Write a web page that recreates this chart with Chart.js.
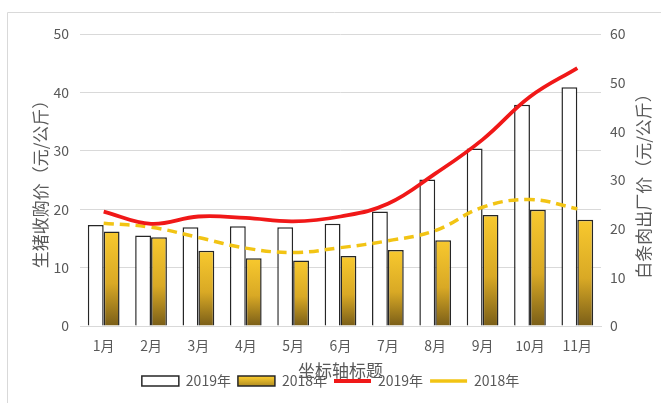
<!DOCTYPE html>
<html><head><meta charset="utf-8">
<script src="https://cdn.jsdelivr.net/npm/chart.js@4/dist/chart.umd.min.js"></script>
<style>html,body{margin:0;padding:0;background:#fff}#wrap{position:relative;width:661px;height:403px}</style>
</head><body><div id="wrap"><canvas id="c" width="661" height="403"></canvas></div>
<script>
const months = ['1月','2月','3月','4月','5月','6月','7月','8月','9月','10月','11月'];
const pig2019 = [17.3, 15.5, 16.9, 17.1, 16.9, 17.5, 19.6, 25.1, 30.4, 37.9, 40.9];
const pig2018 = [16.2, 15.2, 12.9, 11.6, 11.2, 12.0, 13.0, 14.7, 19.0, 19.9, 18.2];
const pork2019 = [23.5, 21.0, 22.5, 22.2, 21.5, 22.5, 25.1, 31.3, 38.3, 47.1, 53.0];
const pork2018 = [21.1, 20.3, 18.2, 16.0, 15.1, 16.1, 17.5, 19.6, 24.4, 26.0, 24.1];
const seriesLabels = ['2019年', '2018年', '2019年', '2018年'];
const leftTicks = [0, 10, 20, 30, 40, 50];
const rightTicks = [0, 10, 20, 30, 40, 50, 60];
const leftTitle = '生猪收购价（元/公斤）';
const rightTitle = '白条肉出厂价（元/公斤）';
const xTitle = '坐标轴标题';

const FONT = "'Noto Sans CJK SC', 'Microsoft YaHei', sans-serif";
const TXT = '#595959';
const GRID = '#D9D9D9';

function goldBar(ctx) {
  const chart = ctx.chart;
  if (!chart.chartArea || !ctx.parsed || ctx.type !== 'data') return '#D6AB2A';
  const y = chart.scales.y;
  const top = y.getPixelForValue(ctx.parsed.y);
  const bottom = y.getPixelForValue(0);
  if (!isFinite(top) || !isFinite(bottom) || bottom - top < 1) return '#D6AB2A';
  const g = chart.ctx.createLinearGradient(0, top, 0, bottom);
  g.addColorStop(0, '#F8C92E');
  g.addColorStop(0.55, '#D9A925');
  g.addColorStop(1, '#7A5E18');
  return g;
}

const frame = {
  id: 'frame',
  beforeDraw(chart) {
    const c = chart.ctx;
    c.save();
    c.strokeStyle = GRID; c.lineWidth = 1;
    c.beginPath(); c.moveTo(7.5, 403); c.lineTo(7.5, 12.5); c.lineTo(661, 12.5); c.stroke();
    c.restore();
  }
};

const extraTitles = {
  id: 'extraTitles',
  afterDraw(chart) {
    const c = chart.ctx, a = chart.chartArea;
    c.save();
    c.fillStyle = TXT; c.textAlign = 'center'; c.textBaseline = 'middle';
    c.font = '17px ' + FONT;
    c.fillText(xTitle, (a.left + a.right) / 2, 371);
    c.translate(644, (a.top + a.bottom) / 2 + 2);
    c.rotate(-Math.PI / 2);
    c.fillText(rightTitle, 0, 0);
    c.restore();
  }
};

new Chart(document.getElementById('c'), {
  data: {
    labels: months,
    datasets: [
      { type: 'bar', label: seriesLabels[0], data: pig2019, yAxisID: 'y', order: 2,
        backgroundColor: '#FFFFFF', borderColor: '#262626', borderWidth: 1.5,
        categoryPercentage: 0.67, barPercentage: 1.0 },
      { type: 'bar', label: seriesLabels[1], data: pig2018, yAxisID: 'y', order: 2,
        backgroundColor: goldBar, borderColor: '#262626', borderWidth: 1.5,
        categoryPercentage: 0.67, barPercentage: 1.0 },
      { type: 'line', label: seriesLabels[2], data: pork2019, yAxisID: 'y1', order: 0,
        borderColor: '#F01818', backgroundColor: '#F01818', borderWidth: 3.8,
        pointRadius: 0, tension: 0.4, fill: false },
      { type: 'line', label: seriesLabels[3], data: pork2018, yAxisID: 'y1', order: 1,
        borderColor: '#F2C414', backgroundColor: '#F2C414', borderWidth: 3.5,
        borderDash: [10, 6], pointRadius: 0, tension: 0.4, fill: false }
    ]
  },
  options: {
    responsive: false,
    animation: false,
    devicePixelRatio: 1,
    layout: { padding: { top: 34, bottom: 5, left: 0, right: 0 } },
    plugins: {
      tooltip: { enabled: false },
      legend: {
        position: 'bottom',
        labels: {
          usePointStyle: true, pointStyleWidth: 37, boxHeight: 10, padding: 7,
          color: TXT, font: { family: FONT, size: 14 },
          sort: (a, b) => a.datasetIndex - b.datasetIndex,
          generateLabels(chart) {
            const items = Chart.defaults.plugins.legend.labels.generateLabels(chart);
            items.forEach(it => {
              if (it.datasetIndex < 2) {
                it.pointStyle = 'rect';
                it.lineWidth = 1.5;
                it.strokeStyle = '#262626';
                if (it.datasetIndex === 1) {
                  const g = chart.ctx.createLinearGradient(0, 377, 0, 389);
                  g.addColorStop(0, '#F8C92E'); g.addColorStop(1, '#9A7A1E');
                  it.fillStyle = g;
                }
              } else {
                it.pointStyle = 'line';
              }
            });
            return items;
          }
        }
      }
    },
    scales: {
      x: {
        grid: { display: false },
        border: { color: GRID, width: 1 },
        ticks: { color: TXT, font: { family: FONT, size: 14 }, padding: 3 },
        afterFit(s) { s.height = 41; }
      },
      y: {
        position: 'left', min: 0, max: 50,
        grid: { color: GRID, drawTicks: false },
        border: { display: false },
        afterBuildTicks(s) { s.ticks = leftTicks.map(v => ({ value: v })); },
        ticks: { color: TXT, font: { family: FONT, size: 14 }, padding: 11 },
        title: { display: true, text: leftTitle, color: TXT, font: { family: FONT, size: 17 }, padding: { top: 30, bottom: 0 } },
        afterFit(s) { s.width = 80; }
      },
      y1: {
        position: 'right', min: 0, max: 60,
        grid: { display: false, drawTicks: false },
        border: { display: false },
        afterBuildTicks(s) { s.ticks = rightTicks.map(v => ({ value: v })); },
        ticks: { color: TXT, font: { family: FONT, size: 14 }, padding: 9 },
        afterFit(s) { s.width = 60; }
      }
    }
  },
  plugins: [frame, extraTitles]
});
</script>
</body></html>
